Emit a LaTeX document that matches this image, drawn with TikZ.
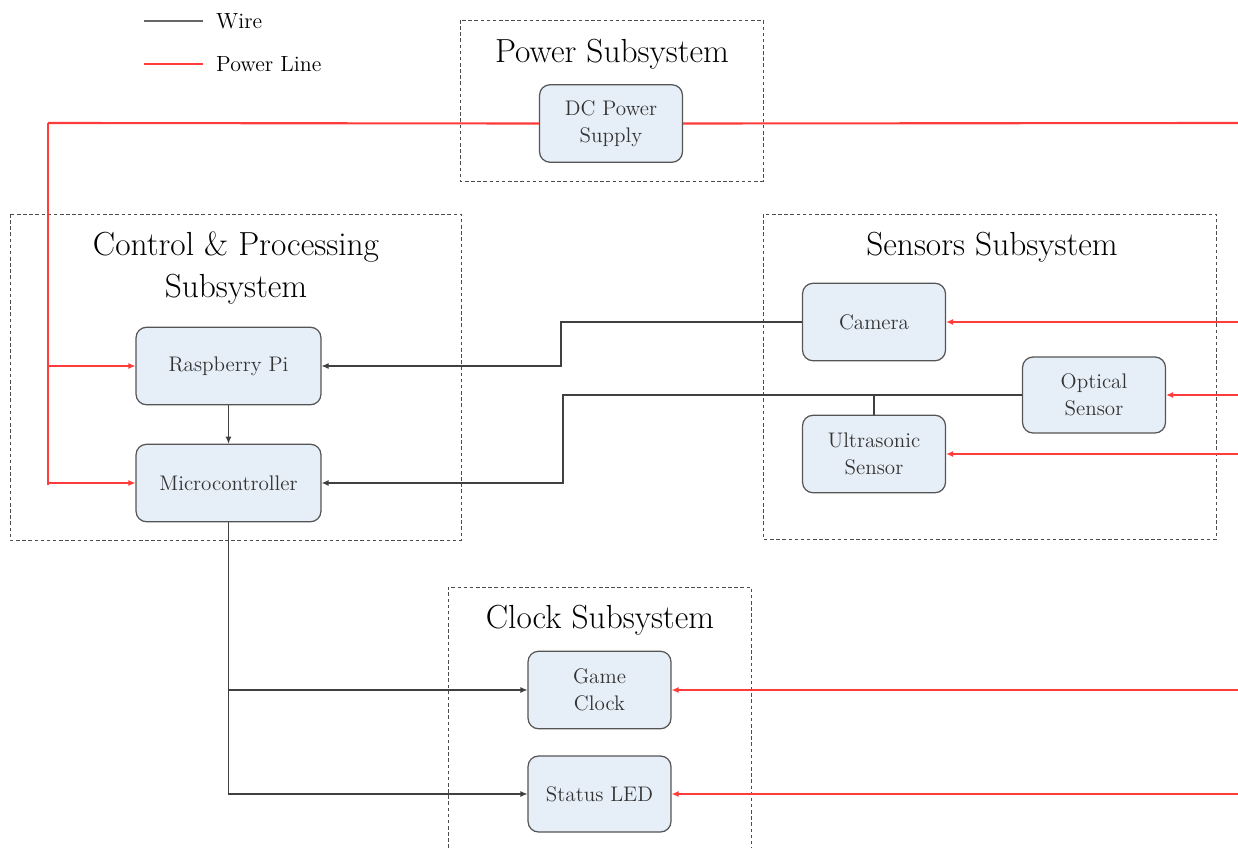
\documentclass[tikz,border=0pt]{standalone}
\usepackage{fontspec}
\usetikzlibrary{arrows.meta}

\definecolor{boxfill}{HTML}{E6EEF7}
\definecolor{boxline}{HTML}{555555}
\definecolor{powerred}{HTML}{FF3B3B}

\begin{document}
\begin{tikzpicture}[x=0.02cm, y=-0.02cm,
            block/.style = {draw=boxline, fill=boxfill, rounded corners=6pt,
                            line width=0.7pt, text=black!80, align=center,
                            minimum width=2.86cm, minimum height=1.55cm,
                            font=\fontsize{12}{15.5}\selectfont},
            group/.style = {draw=black!70, dash pattern=on 2pt off 1.5pt, line width=0.5pt},
            title/.style = {align=center, font=\fontsize{19}{23.5}\selectfont},
            wire/.style = {draw=black!75, line width=0.6pt},
            power/.style = {draw=powerred, line width=0.75pt},
            bus/.style = {draw=powerred, line width=1.2pt},
            tip/.style = {-{Latex[length=4pt, width=3.5pt]}}]
\useasboundingbox (0,0) rectangle (1238,848);

% legend
\coordinate (lw1) at (144,21);
\coordinate (lw2) at (203,21);
\coordinate (lp1) at (144,64);
\coordinate (lp2) at (203,64);
\draw[wire, draw=black!60] (lw1) -- (lw2);
\draw[power] (lp1) -- (lp2);
\node[anchor=west, font=\fontsize{12.5}{16}\selectfont] (lwire) at (210,21) {Wire};
\node[anchor=west, font=\fontsize{12.5}{16}\selectfont] (lpower) at (210,64) {Power Line};

% subsystem frames
\draw[group] (460,20) rectangle (763,181);
\draw[group] (10,214) rectangle (461,540);
\draw[group] (763,214) rectangle (1216,539);
\draw[group] (448,848) -- (448,587) -- (751,587) -- (751,848);

\node[title] (tpower) at (612,54) {Power Subsystem};
\node[title] (tctrl) at (236,268) {Control \& Processing\\Subsystem};
\node[title] (tsens) at (992,247) {Sensors Subsystem};
\node[title] (tclock) at (600,620) {Clock Subsystem};

% blocks
\node[block] (psu) at (611,123.5) {DC Power\\Supply};
\node[block, minimum width=3.7cm] (rpi) at (228.5,366) {Raspberry Pi};
\node[block, minimum width=3.7cm] (mcu) at (228.5,483) {Microcontroller};
\node[block] (cam) at (874,322) {Camera};
\node[block, minimum height=1.52cm] (opt) at (1094,395) {Optical\\Sensor};
\node[block] (us) at (874,454) {Ultrasonic\\Sensor};
\node[block] (clk) at (599.5,690) {Game\\Clock};
\node[block, minimum height=1.52cm] (led) at (599.5,794) {Status LED};

% power lines
\coordinate (pl) at (48,123);
\coordinate (pr) at (1238,123);
\draw[bus] (psu.west) -- (pl);
\draw[bus] (psu.east) -- (pr);
\draw[power] (pl) -- (48,485);
\draw[power, tip] (pl) |- (rpi.west);
\draw[power, tip] (pl) |- (mcu.west);
\draw[power, tip] (cam.east -| pr) -- (cam.east);
\draw[power, tip] (opt.east -| pr) -- (opt.east);
\draw[power, tip] (us.east -| pr) -- (us.east);
\draw[power, tip] (clk.east -| pr) -- (clk.east);
\draw[power, tip] (led.east -| pr) -- (led.east);

% wires
\coordinate (cj) at (561,322);
\coordinate (oj) at (563,395);
\coordinate (uj) at (us.north |- opt.west);
\draw[wire, tip] (rpi) -- (mcu);
\draw[wire, tip] (cam.west) -- (cj) |- (rpi.east);
\draw[wire] (opt.west) -- (uj);
\draw[wire] (us.north) -- (uj);
\draw[wire, line width=1.1pt, tip] (uj) -- (oj) |- (mcu.east);
\draw[wire, tip] (mcu.south) |- (clk.west);
\draw[wire, tip] (mcu.south) |- (led.west);

\end{tikzpicture}
\end{document}
